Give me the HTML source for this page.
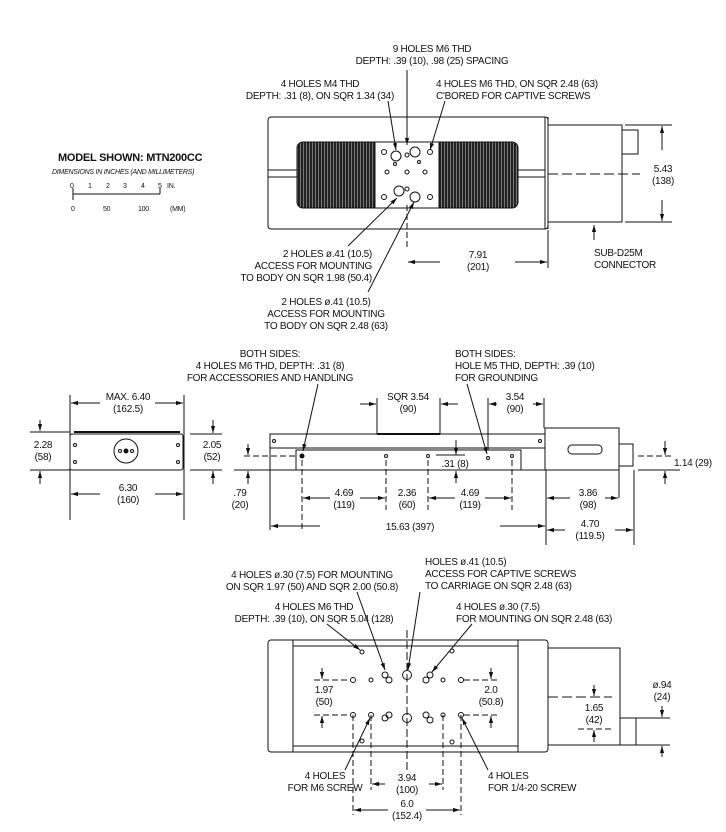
<!DOCTYPE html>
<html><head><style>
html,body{margin:0;padding:0;background:#fff;}
svg{display:block;}
text{font-family:"Liberation Sans Narrow","Liberation Sans",sans-serif;font-size:10px;fill:#111;letter-spacing:-0.25px;}
.c{text-anchor:middle;}
.r{text-anchor:end;}
</style></head><body>
<svg width="726" height="832" viewBox="0 0 726 832" xmlns="http://www.w3.org/2000/svg">
<defs>
<marker id="a" viewBox="0 0 10 10" refX="10" refY="5" markerWidth="7" markerHeight="7" orient="auto-start-reverse"><path d="M0,2 L10,5 L0,8 z" fill="#111"/></marker>
<pattern id="g" width="3" height="4" patternUnits="userSpaceOnUse"><rect width="3" height="4" fill="#222"/><rect width="1" height="4" fill="#777"/></pattern>
</defs>
<text x="58" y="161" style="font-weight:bold;font-size:11px">MODEL SHOWN: MTN200CC</text>
<text x="52" y="174" style="font-size:7px;font-style:italic">DIMENSIONS IN INCHES (AND MILLIMETERS)</text>
<g stroke="#111" stroke-width="1"><line x1="73" y1="194" x2="160" y2="194"/><line x1="73" y1="188" x2="73" y2="200"/><line x1="160" y1="188" x2="160" y2="194"/></g>
<text x="70" y="188" style="font-size:7px">0</text><text x="88" y="188" style="font-size:7px">1</text><text x="106" y="188" style="font-size:7px">2</text><text x="123" y="188" style="font-size:7px">3</text><text x="141" y="188" style="font-size:7px">4</text><text x="158" y="188" style="font-size:7px">5</text><text x="167" y="188" style="font-size:7px">IN.</text>
<text x="71" y="211" style="font-size:7px">0</text><text x="103" y="211" style="font-size:7px">50</text><text x="138" y="211" style="font-size:7px">100</text><text x="170" y="211" style="font-size:7px">(MM)</text>

<text x="432" y="52" class="c">9 HOLES M6 THD</text>
<text x="432" y="64" class="c">DEPTH: .39 (10), .98 (25) SPACING</text>
<text x="320" y="87" class="c">4 HOLES M4 THD</text>
<text x="320" y="99" class="c">DEPTH: .31 (8), ON SQR 1.34 (34)</text>
<text x="436" y="87">4 HOLES M6 THD, ON SQR 2.48 (63)</text>
<text x="436" y="99">C'BORED FOR CAPTIVE SCREWS</text>
<g stroke="#111" fill="none">
<rect x="268" y="117" width="280" height="112" rx="3"/>
<line x1="548" y1="117" x2="548" y2="229"/><line x1="545" y1="117" x2="545" y2="229"/>
<rect x="297" y="142" width="221" height="66" rx="6" fill="url(#g)" stroke="#111"/>
<line x1="268" y1="170" x2="297" y2="170"/><line x1="268" y1="177" x2="297" y2="177"/>
<line x1="518" y1="170" x2="545" y2="170"/><line x1="518" y1="177" x2="545" y2="177"/>
<rect x="375" y="142" width="64" height="66" fill="#fff"/>
<circle cx="396" cy="156" r="5"/><circle cx="415" cy="152" r="5"/><circle cx="399" cy="191" r="5"/><circle cx="415" cy="197" r="5"/>
<circle cx="387" cy="172" r="2"/><circle cx="407" cy="172" r="2"/><circle cx="425" cy="172" r="2"/>
<circle cx="407" cy="155" r="2"/><circle cx="407" cy="189" r="2"/><circle cx="419" cy="162" r="1.5"/><circle cx="395" cy="164" r="1.5"/>
<circle cx="384" cy="152" r="2.5"/><circle cx="430" cy="152" r="2.5"/><circle cx="384" cy="197" r="2.5"/><circle cx="430" cy="197" r="2.5"/>
<rect x="548" y="125" width="74" height="97"/>
<rect x="622" y="130" width="16" height="24"/>
<line x1="407" y1="70" x2="407" y2="145" marker-end="url(#a)"/>
<line x1="388" y1="101" x2="396" y2="150" marker-end="url(#a)"/>
<line x1="445" y1="101" x2="430" y2="150" marker-end="url(#a)"/>
<line x1="407" y1="205" x2="407" y2="250" stroke-dasharray="6,3"/>
<line x1="548" y1="174" x2="640" y2="174" stroke-dasharray="10,4"/>
<line x1="625" y1="125" x2="672" y2="125"/><line x1="625" y1="222" x2="672" y2="222"/>
<line x1="662" y1="150" x2="662" y2="126" marker-end="url(#a)"/><line x1="662" y1="200" x2="662" y2="221" marker-end="url(#a)"/>
<line x1="548" y1="230" x2="548" y2="268"/>
<line x1="440" y1="262" x2="408" y2="262" marker-end="url(#a)"/><line x1="515" y1="262" x2="547" y2="262" marker-end="url(#a)"/>
<line x1="594" y1="240" x2="594" y2="225" marker-end="url(#a)"/>
<line x1="348" y1="246" x2="397" y2="198" marker-end="url(#a)"/>
<line x1="368" y1="292" x2="414" y2="202" marker-end="url(#a)"/>
</g>
<text x="663" y="172" class="c">5.43</text><text x="663" y="184" class="c">(138)</text>
<text x="478" y="258" class="c">7.91</text><text x="478" y="270" class="c">(201)</text>
<text x="594" y="256">SUB-D25M</text><text x="594" y="268">CONNECTOR</text>
<text x="372" y="257" class="r">2 HOLES ø.41 (10.5)</text>
<text x="372" y="269" class="r">ACCESS FOR MOUNTING</text>
<text x="372" y="281" class="r">TO BODY ON SQR 1.98 (50.4)</text>
<text x="326" y="305" class="c">2 HOLES ø.41 (10.5)</text>
<text x="326" y="317" class="c">ACCESS FOR MOUNTING</text>
<text x="326" y="329" class="c">TO BODY ON SQR 2.48 (63)</text>

<text x="270" y="357" class="c">BOTH SIDES:</text>
<text x="270" y="369" class="c">4 HOLES M6 THD, DEPTH: .31 (8)</text>
<text x="270" y="381" class="c">FOR ACCESSORIES AND HANDLING</text>
<text x="455" y="357">BOTH SIDES:</text>
<text x="455" y="369">HOLE M5 THD, DEPTH: .39 (10)</text>
<text x="455" y="381">FOR GROUNDING</text>
<g stroke="#111" fill="none">
<rect x="70" y="434" width="113" height="36" rx="2"/>
<line x1="74" y1="432" x2="180" y2="432" stroke-width="2"/>
<circle cx="126" cy="451" r="12"/><circle cx="126" cy="451" r="2" fill="#111"/><circle cx="120" cy="451" r="1.5"/><circle cx="132" cy="451" r="1.5"/>
<circle cx="75" cy="445" r="1.5"/><circle cx="75" cy="462" r="1.5"/><circle cx="178" cy="445" r="1.5"/><circle cx="178" cy="462" r="1.5"/>
<line x1="70" y1="395" x2="70" y2="520"/><line x1="184" y1="395" x2="184" y2="520"/>
<line x1="100" y1="403" x2="71" y2="403" marker-end="url(#a)"/><line x1="155" y1="403" x2="183" y2="403" marker-end="url(#a)"/>
<line x1="100" y1="494" x2="71" y2="494" marker-end="url(#a)"/><line x1="155" y1="494" x2="183" y2="494" marker-end="url(#a)"/>
<line x1="30" y1="432" x2="70" y2="432"/><line x1="30" y1="470" x2="70" y2="470"/>
<line x1="40" y1="420" x2="40" y2="431" marker-end="url(#a)"/><line x1="40" y1="484" x2="40" y2="471" marker-end="url(#a)"/>
<line x1="190" y1="434" x2="222" y2="434"/><line x1="190" y1="470" x2="222" y2="470"/>
<line x1="213" y1="420" x2="213" y2="433" marker-end="url(#a)"/><line x1="213" y1="484" x2="213" y2="471" marker-end="url(#a)"/>
<rect x="270" y="448" width="275" height="22"/>
<rect x="270" y="434" width="275" height="14"/>
<line x1="377" y1="434" x2="440" y2="434" stroke-width="2"/>
<rect x="296" y="450" width="225" height="20"/>
<rect x="545" y="428" width="74" height="42"/>
<rect x="568" y="445" width="34" height="9" rx="4"/>
<rect x="619" y="444" width="14" height="22"/>
<circle cx="274" cy="441" r="1.5"/><circle cx="540" cy="441" r="1.5"/>
<circle cx="302" cy="456" r="2" fill="#111"/><circle cx="386" cy="456" r="1.5"/><circle cx="428" cy="456" r="1.5"/><circle cx="512" cy="456" r="1.5"/><circle cx="488" cy="458" r="1.5"/>
<line x1="244" y1="456" x2="296" y2="456" stroke-dasharray="6,3"/>
<line x1="234" y1="470" x2="270" y2="470"/>
<line x1="248" y1="444" x2="248" y2="455" marker-end="url(#a)"/><line x1="248" y1="484" x2="248" y2="471" marker-end="url(#a)"/>
<line x1="302" y1="460" x2="302" y2="530" stroke-dasharray="6,3"/>
<line x1="386" y1="460" x2="386" y2="510" stroke-dasharray="6,3"/>
<line x1="428" y1="460" x2="428" y2="510" stroke-dasharray="6,3"/>
<line x1="512" y1="460" x2="512" y2="510" stroke-dasharray="6,3"/>
<line x1="330" y1="498" x2="303" y2="498" marker-end="url(#a)"/><line x1="360" y1="498" x2="385" y2="498" marker-end="url(#a)"/>
<line x1="455" y1="498" x2="429" y2="498" marker-end="url(#a)"/><line x1="485" y1="498" x2="511" y2="498" marker-end="url(#a)"/>
<line x1="270" y1="470" x2="270" y2="530"/>
<line x1="546" y1="470" x2="546" y2="545"/><line x1="634" y1="470" x2="634" y2="545"/>
<line x1="320" y1="526" x2="271" y2="526" marker-end="url(#a)"/><line x1="500" y1="526" x2="545" y2="526" marker-end="url(#a)"/>
<line x1="570" y1="498" x2="547" y2="498" marker-end="url(#a)"/><line x1="605" y1="498" x2="618" y2="498" marker-end="url(#a)"/>
<line x1="565" y1="530" x2="547" y2="530" marker-end="url(#a)"/><line x1="615" y1="530" x2="633" y2="530" marker-end="url(#a)"/>
<line x1="619" y1="498" x2="619" y2="470"/>
<line x1="377" y1="398" x2="377" y2="434"/><line x1="440" y1="398" x2="440" y2="434"/>
<line x1="360" y1="404" x2="376" y2="404" marker-end="url(#a)"/><line x1="458" y1="404" x2="441" y2="404" marker-end="url(#a)"/>
<line x1="488" y1="398" x2="488" y2="450"/><line x1="544" y1="398" x2="544" y2="428"/>
<line x1="497" y1="404" x2="489" y2="404" marker-end="url(#a)"/><line x1="533" y1="404" x2="543" y2="404" marker-end="url(#a)"/>
<line x1="318" y1="384" x2="303" y2="451" marker-end="url(#a)"/>
<line x1="467" y1="384" x2="487" y2="454" marker-end="url(#a)"/>
<line x1="436" y1="455" x2="465" y2="455"/>
<line x1="456" y1="440" x2="456" y2="455" marker-end="url(#a)"/><line x1="456" y1="483" x2="456" y2="471" marker-end="url(#a)"/>
<line x1="638" y1="456" x2="672" y2="456" stroke-dasharray="6,3"/><line x1="638" y1="470" x2="680" y2="470"/>
<line x1="665" y1="441" x2="665" y2="455" marker-end="url(#a)"/><line x1="665" y1="484" x2="665" y2="471" marker-end="url(#a)"/>
</g>
<text x="128" y="400" class="c">MAX. 6.40</text><text x="128" y="412" class="c">(162.5)</text>
<text x="43" y="448" class="c">2.28</text><text x="43" y="460" class="c">(58)</text>
<text x="212" y="448" class="c">2.05</text><text x="212" y="460" class="c">(52)</text>
<text x="128" y="491" class="c">6.30</text><text x="128" y="503" class="c">(160)</text>
<text x="240" y="496" class="c">.79</text><text x="240" y="508" class="c">(20)</text>
<text x="408" y="400" class="c">SQR 3.54</text><text x="408" y="412" class="c">(90)</text>
<text x="515" y="400" class="c">3.54</text><text x="515" y="412" class="c">(90)</text>
<text x="455" y="467" class="c">.31 (8)</text>
<text x="674" y="466">1.14 (29)</text>
<text x="344" y="496" class="c">4.69</text><text x="344" y="508" class="c">(119)</text>
<text x="407" y="496" class="c">2.36</text><text x="407" y="508" class="c">(60)</text>
<text x="470" y="496" class="c">4.69</text><text x="470" y="508" class="c">(119)</text>
<text x="588" y="496" class="c">3.86</text><text x="588" y="508" class="c">(98)</text>
<text x="410" y="530" class="c">15.63 (397)</text>
<text x="590" y="527" class="c">4.70</text><text x="590" y="539" class="c">(119.5)</text>

<text x="312" y="578" class="c">4 HOLES ø.30 (7.5) FOR MOUNTING</text>
<text x="312" y="590" class="c">ON SQR 1.97 (50) AND SQR 2.00 (50.8)</text>
<text x="425" y="565">HOLES ø.41 (10.5)</text>
<text x="425" y="577">ACCESS FOR CAPTIVE SCREWS</text>
<text x="425" y="589">TO CARRIAGE ON SQR 2.48 (63)</text>
<text x="314" y="610" class="c">4 HOLES M6 THD</text>
<text x="314" y="622" class="c">DEPTH: .39 (10), ON SQR 5.04 (128)</text>
<text x="456" y="610">4 HOLES ø.30 (7.5)</text>
<text x="456" y="622">FOR MOUNTING ON SQR 2.48 (63)</text>
<g stroke="#111" fill="none">
<rect x="268" y="640" width="280" height="112" rx="3"/>
<line x1="293" y1="640" x2="293" y2="752"/><line x1="518" y1="640" x2="518" y2="752"/>
<line x1="293" y1="646" x2="518" y2="646"/><line x1="293" y1="746" x2="518" y2="746"/>
<rect x="548" y="648" width="72" height="97"/>
<rect x="620" y="718" width="16" height="27"/>
<circle cx="362" cy="652" r="2"/><circle cx="452" cy="651" r="2"/><circle cx="362" cy="741" r="2"/><circle cx="452" cy="742" r="2"/>
<circle cx="407" cy="675" r="4.5"/><circle cx="407" cy="718" r="4.5"/>
<circle cx="385" cy="675" r="3"/><circle cx="389" cy="680" r="3"/><circle cx="426" cy="680" r="3"/><circle cx="430" cy="675" r="3"/>
<circle cx="385" cy="718" r="3"/><circle cx="389" cy="715" r="3"/><circle cx="426" cy="715" r="3"/><circle cx="430" cy="720" r="3"/>
<circle cx="353" cy="680" r="2.5"/><circle cx="371" cy="680" r="2"/><circle cx="443" cy="680" r="2"/><circle cx="461" cy="680" r="2.5"/>
<circle cx="353" cy="715" r="2.5"/><circle cx="371" cy="715" r="2.5"/><circle cx="443" cy="715" r="2"/><circle cx="461" cy="715" r="2.5"/>
<line x1="407" y1="630" x2="407" y2="770" stroke-dasharray="8,3"/>
<line x1="314" y1="680" x2="350" y2="680" stroke-dasharray="6,3"/><line x1="314" y1="715" x2="350" y2="715" stroke-dasharray="6,3"/>
<line x1="464" y1="680" x2="500" y2="680" stroke-dasharray="6,3"/><line x1="464" y1="715" x2="500" y2="715" stroke-dasharray="6,3"/>
<line x1="322" y1="668" x2="322" y2="679" marker-end="url(#a)"/><line x1="322" y1="728" x2="322" y2="716" marker-end="url(#a)"/>
<line x1="491" y1="668" x2="491" y2="679" marker-end="url(#a)"/><line x1="491" y1="728" x2="491" y2="716" marker-end="url(#a)"/>
<line x1="353" y1="715" x2="353" y2="815" stroke-dasharray="6,3"/><line x1="371" y1="715" x2="371" y2="790" stroke-dasharray="6,3"/>
<line x1="443" y1="715" x2="443" y2="790" stroke-dasharray="6,3"/><line x1="461" y1="715" x2="461" y2="815" stroke-dasharray="6,3"/>
<line x1="385" y1="784" x2="372" y2="784" marker-end="url(#a)"/><line x1="429" y1="784" x2="442" y2="784" marker-end="url(#a)"/>
<line x1="388" y1="810" x2="354" y2="810" marker-end="url(#a)"/><line x1="426" y1="810" x2="460" y2="810" marker-end="url(#a)"/>
<line x1="548" y1="697" x2="612" y2="697" stroke-dasharray="10,4"/>
<line x1="578" y1="729" x2="612" y2="729" stroke-dasharray="6,3"/>
<line x1="594" y1="685" x2="594" y2="696" marker-end="url(#a)"/><line x1="594" y1="742" x2="594" y2="730" marker-end="url(#a)"/>
<line x1="636" y1="718" x2="670" y2="718"/><line x1="636" y1="745" x2="670" y2="745"/>
<line x1="662" y1="706" x2="662" y2="717" marker-end="url(#a)"/><line x1="662" y1="757" x2="662" y2="746" marker-end="url(#a)"/>
<line x1="327" y1="624" x2="360" y2="650" marker-end="url(#a)"/>
<line x1="357" y1="592" x2="385" y2="670" marker-end="url(#a)"/>
<line x1="420" y1="592" x2="408" y2="670" marker-end="url(#a)"/>
<line x1="472" y1="624" x2="432" y2="672" marker-end="url(#a)"/>
<line x1="345" y1="770" x2="370" y2="718" marker-end="url(#a)"/>
<line x1="488" y1="770" x2="462" y2="718" marker-end="url(#a)"/>
</g>
<rect x="392" y="772" width="30" height="24" fill="#fff"/>
<rect x="392" y="798" width="30" height="24" fill="#fff"/>
<text x="324" y="693" class="c">1.97</text><text x="324" y="705" class="c">(50)</text>
<text x="491" y="693" class="c">2.0</text><text x="491" y="705" class="c">(50.8)</text>
<text x="594" y="711" class="c">1.65</text><text x="594" y="723" class="c">(42)</text>
<text x="662" y="688" class="c">ø.94</text><text x="662" y="700" class="c">(24)</text>
<text x="325" y="779" class="c">4 HOLES</text><text x="325" y="791" class="c">FOR M6 SCREW</text>
<text x="488" y="779">4 HOLES</text><text x="488" y="791">FOR 1/4-20 SCREW</text>
<text x="407" y="781" class="c">3.94</text><text x="407" y="793" class="c">(100)</text>
<text x="407" y="807" class="c">6.0</text><text x="407" y="819" class="c">(152.4)</text>
</svg>
</body></html>
